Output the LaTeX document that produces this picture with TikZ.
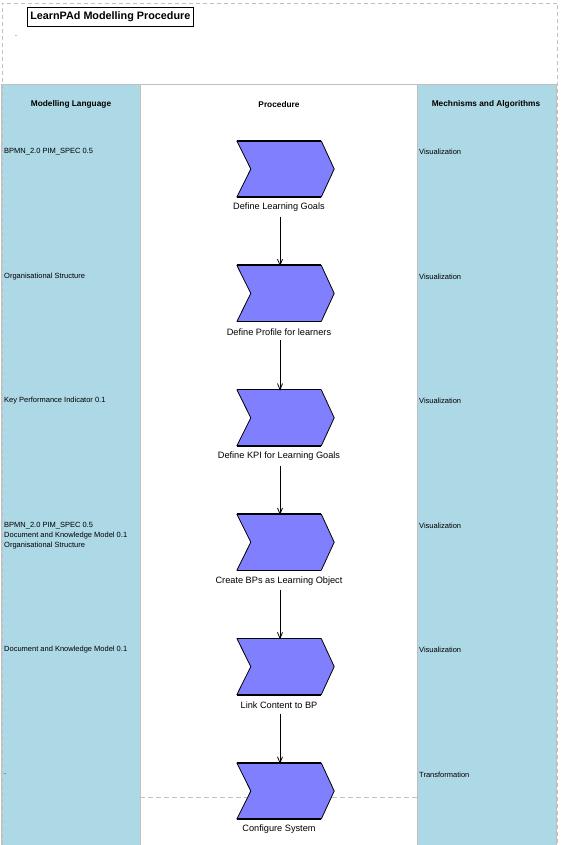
\documentclass[tikz,border=0pt]{standalone}
\usepackage{fontspec}
\setmainfont{Liberation Sans}
\usetikzlibrary{arrows.meta}
\definecolor{lane}{HTML}{ADD8E6}
\definecolor{chevfill}{HTML}{8080FF}
\definecolor{grayline}{HTML}{C0C0C0}
\tikzset{
  chevbox/.style={minimum width=97pt, minimum height=56pt, inner sep=0pt},
  chevlabel/.style={font=\fontsize{9.2}{10}\selectfont, inner sep=0pt, anchor=center},
  lanetext/.style={font=\fontsize{7.5}{10}\selectfont, inner sep=0pt, anchor=west, align=left},
  headtext/.style={font=\bfseries\fontsize{8.3}{9}\selectfont, inner sep=0pt},
  flow/.style={-{Straight Barb[length=6pt,width=5pt,line width=0.8pt]}, line width=0.8pt},
}
\begin{document}
\begin{tikzpicture}[x=1pt,y=-1pt]
\useasboundingbox (0,0) rectangle (562,845);
\fill[white] (0,0) rectangle (562,845);
% lanes
\fill[lane] (2,84) rectangle (140,845);
\fill[lane] (417,84) rectangle (556,845);
\draw[grayline, line width=0.8pt] (2,84) -- (556,84);
\draw[grayline, line width=0.8pt] (140,84) -- (140,845);
\draw[grayline, line width=0.8pt] (417,84) -- (417,845);
\draw[grayline, line width=0.8pt] (556,84) -- (556,845);
\draw[grayline, line width=0.8pt] (1.5,84) -- (1.5,845);
% outer dashed border
\draw[grayline, line width=0.7pt, dash pattern=on 4pt off 3pt] (2,845) -- (2,3) -- (557.5,3) -- (557.5,845);
% dashed separator in procedure lane
\draw[grayline, line width=0.7pt, dash pattern=on 5pt off 3pt] (140,797) -- (417,797);
% title
\node[draw, line width=0.6pt, inner xsep=3pt, minimum height=19pt, font=\bfseries\fontsize{10.8}{12}\selectfont, anchor=west] (title) at (27,16.5) {LearnPAd Modelling Procedure};
\node[inner sep=0pt, font=\fontsize{7}{8}\selectfont] (dot) at (16,36) {.};
% headers
\node[headtext] (h1) at (71,104.5) {Modelling Language};
\node[headtext] (h2) at (279,104.5) {Procedure};
\node[headtext] (h3) at (486,104.5) {Mechnisms and Algorithms};
% chevrons
\foreach \i/\y in {1/169,2/293.4,3/417.8,4/542.2,5/666.6,6/791}{
  \node[chevbox] (p\i) at (285.5,\y) {};
}
\foreach \n in {p1,p2,p3,p4,p5,p6}{
  \fill[chevfill] (\n.north west) -- ([xshift=-13pt]\n.north east) -- (\n.east) -- ([xshift=-13pt]\n.south east) -- (\n.south west) -- ([xshift=14pt]\n.west) -- cycle;
  \draw[line width=0.8pt] ([xshift=-13pt]\n.north east) -- (\n.east) -- ([xshift=-13pt]\n.south east);
  \draw[line width=0.8pt] (\n.south west) -- ([xshift=14pt]\n.west) -- (\n.north west);
  \draw[line width=1.6pt] (\n.north west) -- ([xshift=-13pt]\n.north east);
  \draw[line width=1.6pt] (\n.south west) -- ([xshift=-13pt]\n.south east);
}
% labels
\node[chevlabel] (l1) at (279,207.5) {Define Learning Goals};
\node[chevlabel] (l2) at (279,331.9) {Define Profile for learners};
\node[chevlabel] (l3) at (279,456.3) {Define KPI for Learning Goals};
\node[chevlabel] (l4) at (279,580.7) {Create BPs as Learning Object};
\node[chevlabel] (l5) at (279,705.1) {Link Content to BP};
\node[chevlabel] (l6) at (279,829.5) {Configure System};
% arrows
\foreach \a/\b in {1/2,2/3,3/4,4/5,5/6}{
  \draw[flow] ([xshift=1pt,yshift=-5pt]l\a.south) -- ([xshift=1pt,yshift=-1pt]l\a.south |- p\b.north);
}
% left lane texts
\node[lanetext] (m1) at (4,151.5) {BPMN\_2.0 PIM\_SPEC 0.5};
\node[lanetext] (m2) at (4,276.5) {Organisational Structure};
\node[lanetext] (m3) at (4,400.5) {Key Performance Indicator 0.1};
\node[lanetext] (m4) at (4,535.5) {BPMN\_2.0 PIM\_SPEC 0.5\\Document and Knowledge Model 0.1\\Organisational Structure};
\node[lanetext] (m5) at (4,649.5) {Document and Knowledge Model 0.1};
\node[lanetext] (m6) at (4,774.5) {.};
% right lane texts
\node[lanetext] (a1) at (419,151.5) {Visualization};
\node[lanetext] (a2) at (419,276.5) {Visualization};
\node[lanetext] (a3) at (419,400.5) {Visualization};
\node[lanetext] (a4) at (419,525.5) {Visualization};
\node[lanetext] (a5) at (419,649.5) {Visualization};
\node[lanetext] (a6) at (419,774.5) {Transformation};
\end{tikzpicture}
\end{document}
